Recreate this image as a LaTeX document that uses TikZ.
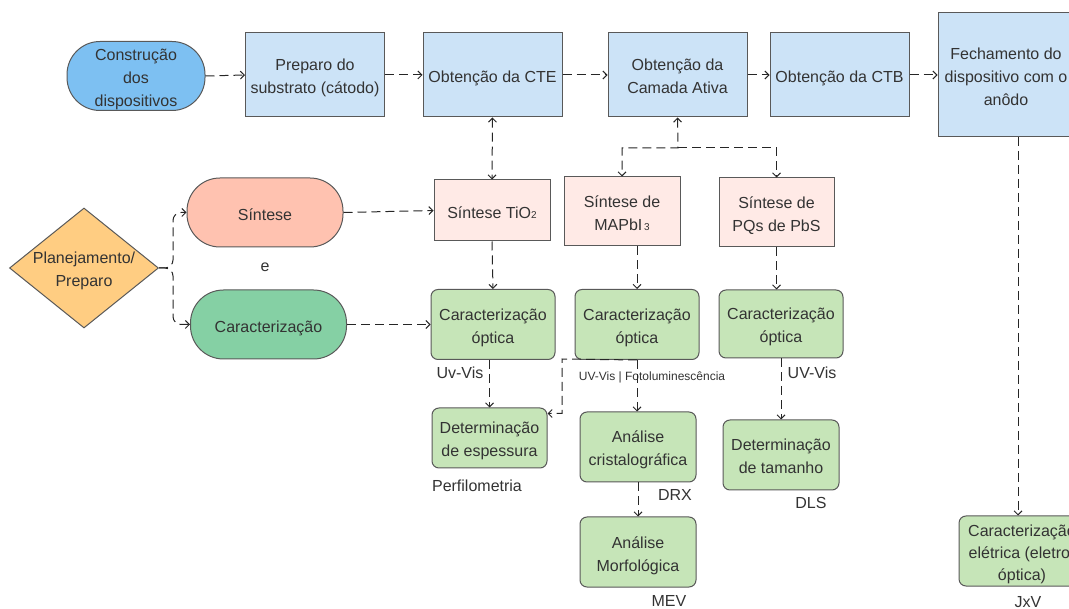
\documentclass[tikz,border=0pt]{standalone}
\usepackage{fontspec}
\setmainfont{Liberation Sans}
\usetikzlibrary{arrows.meta,shapes.geometric}
\newcommand\mystrut{\rule{0pt}{19pt}}
\definecolor{txt}{HTML}{333333}
\definecolor{bord}{HTML}{595959}
\definecolor{topblue}{HTML}{CCE3F7}
\definecolor{ovblue}{HTML}{7DC0F2}
\definecolor{ovpink}{HTML}{FFC2B0}
\definecolor{ovgreen}{HTML}{85D0A4}
\definecolor{diam}{HTML}{FFCD82}
\definecolor{pinkbox}{HTML}{FFEAE6}
\definecolor{greenbox}{HTML}{C6E5B8}
\tikzset{
  struts/.style={execute at begin node={\rule{0pt}{20pt}}, execute at end node={\rule[-4pt]{0pt}{4pt}}},
  lstruts/.style={execute at begin node={\rule{0pt}{16pt}}, execute at end node={\rule[-4pt]{0pt}{4pt}}},
  base/.style={draw=bord, line width=1pt, inner sep=0pt, align=center, text=txt,
    font=\fontsize{16}{23}\selectfont, struts},
  topbox/.style={base, fill=topblue, minimum width=139pt, minimum height=84pt},
  oval/.style={base, rounded corners=33pt, minimum width=156pt, minimum height=69pt},
  pinkbx/.style={base, fill=pinkbox, minimum width=116pt},
  greenbx/.style={base, fill=greenbox, rounded corners=7pt, minimum width=116pt, minimum height=70pt},
  lbl/.style={inner sep=0pt, text=txt, font=\fontsize{16}{19}\selectfont, lstruts},
  con/.style={draw=black!85, line width=1pt, dash pattern=on 9pt off 5pt,
    arrows={-Straight Barb[length=4pt,width=8pt]}},
}
\begin{document}
\begin{tikzpicture}[x=1pt,y=-1pt]
\useasboundingbox (0,0) rectangle (1069,609);
% top row
\node[base, fill=ovblue, rounded corners=33pt, minimum width=138pt, minimum height=66pt] (cons) at (136,76) {\mystrut Construção\\dos\\dispositivos};
\node[topbox] (prep) at (315,75) {\mystrut Preparo do\\substrato (cátodo)};
\node[topbox] (cte) at (492.5,75) {Obtenção da CTE};
\node[topbox] (cam) at (677.5,75) {\mystrut Obtenção da\\Camada Ativa};
\node[topbox] (ctb) at (839.5,75) {Obtenção da CTB};
\node[base, fill=topblue, minimum width=136pt, minimum height=124pt] (fech) at (1006,75) {\mystrut Fechamento do\\dispositivo com o\\anôdo};
% left
\node[base, fill=diam, shape=diamond, aspect=1.24, inner sep=-4pt, minimum width=149pt, minimum height=120pt] (dia) at (84,268) {\mystrut Planejamento/\\Preparo};
\node[oval, fill=ovpink] (sint) at (265,212.5) {Síntese};
\node[lbl] (e) at (265,266) {e};
\node[oval, fill=ovgreen] (car) at (268.5,324.5) {Caracterização};
% synthesis boxes
\node[pinkbx, minimum height=61pt] (tio) at (492,210.5) {Síntese Ti{}O{\fontsize{10}{10}\selectfont 2}};
\node[pinkbx, minimum height=69pt] (mapb) at (622,211.5) {\mystrut Síntese de\\MAPbI{\fontsize{10}{10}\selectfont\,3}};
\node[pinkbx, minimum height=69pt, minimum width=115pt] (pbs) at (776.5,212.5) {\mystrut Síntese de\\PQs de PbS};
% characterization
\node[greenbx, minimum width=124pt] (co1) at (493,324.5) {\mystrut Caracterização\\óptica};
\node[greenbx, minimum width=124pt] (co2) at (637,324.5) {\mystrut Caracterização\\óptica};
\node[greenbx, minimum width=124pt, minimum height=68pt] (co3) at (781,324) {\mystrut Caracterização\\óptica};
\node[greenbx, minimum width=115pt, minimum height=60pt] (desp) at (489.5,438) {\mystrut Determinação\\de espessura};
\node[greenbx] (ac) at (638,447) {\mystrut Análise\\cristalográfica};
\node[greenbx] (am) at (638,552) {\mystrut Análise\\Morfológica};
\node[greenbx] (dt) at (781,455) {\mystrut Determinação\\de tamanho};
\node[greenbx, minimum width=126pt, minimum height=70pt, font=\fontsize{16}{22}\selectfont] (ce) at (1022,551) {\mystrut Caracterização\\elétrica (eletro-\\óptica)};
% labels
\node[lbl] (l1) at (460,373) {Uv-Vis};
\node[lbl, font=\fontsize{12}{14}\selectfont] (l2) at (652,375) {UV-Vis | Fotoluminescência};
\node[lbl] (l3) at (812,373) {UV-Vis};
\node[lbl] (l4) at (477,486) {Perfilometria};
\node[lbl] (l5) at (675,495) {DRX};
\node[lbl] (l6) at (811,502) {DLS};
\node[lbl] (l7) at (669,600.5) {MEV};
\node[lbl] (l8) at (1028,601) {JxV};
% coordinates
\coordinate (jn) at (678,148);
\coordinate (dx) at (173,268);
\coordinate (cx) at (562,359);
\coordinate (fs) at (1018,137);
% top connectors
\draw[con] (cons.east) -- (prep.west);
\draw[con] (prep.east) -- (cte.west);
\draw[con] (cte.east) -- (cam.west);
\draw[con] (cam.east) -- (ctb.west);
\draw[con] (ctb.east) -- (fech.west);
% diamond
\draw[con, rounded corners=8pt] (dia.east) -- (dx) |- (sint.west);
\draw[con, rounded corners=8pt] (dia.east) -- (dx) |- (car.west);
\draw[con] (sint.east) -- (tio.west);
\draw[con] (car.east) -- (co1.west);
% vertical
\draw[con, arrows={Straight Barb[length=4pt,width=8pt]-Straight Barb[length=4pt,width=8pt]}] (cte.south) -- (tio.north);
\draw[con, arrows={Straight Barb[length=4pt,width=8pt]-Straight Barb[length=4pt,width=8pt]}] (cam.south) -- (jn) -| (mapb.north);
\draw[con] (jn) -| (pbs.north);
\draw[con] (tio.south) -- (co1.north);
\draw[con] (co2.north |- mapb.south) -- (co2.north);
\draw[con] (pbs.south) -- (pbs.south |- co3.north);
\draw[con] (desp.north |- co1.south) -- (desp.north);
\draw[con] (co2.south) -- (cx) |- ([yshift=-6pt]desp.north east);
\draw[con] (co2.south) -- (co2.south |- ac.north);
\draw[con] (ac.south) -- (am.north);
\draw[con] (co3.south) -- (dt.north);
\draw[con] (fs) -- (fs |- ce.north);
\end{tikzpicture}
\end{document}
